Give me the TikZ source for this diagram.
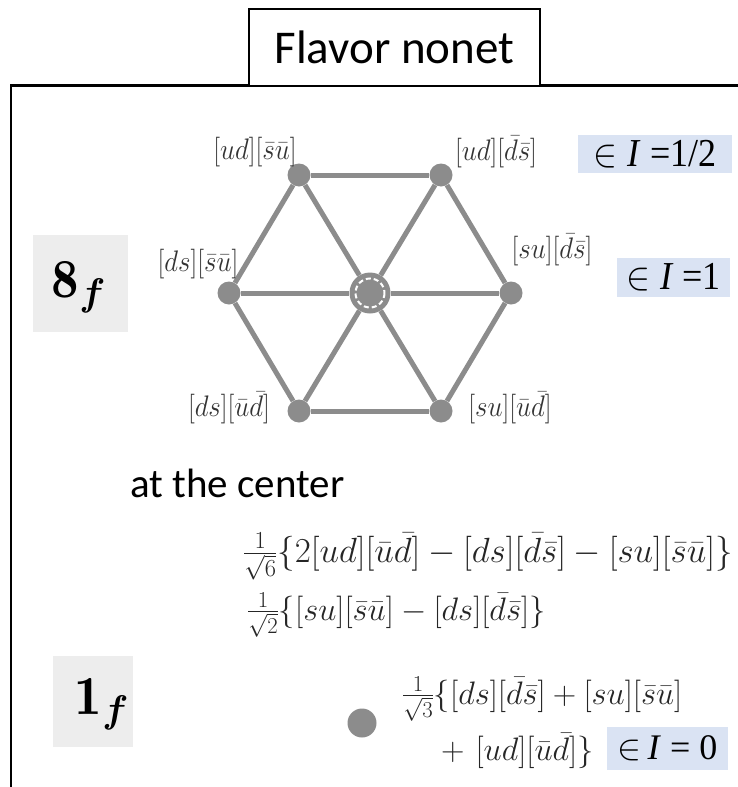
\RequirePackage{fix-cm}
\documentclass[tikz,border=0pt]{standalone}
\usepackage{amsmath}
\usepackage{fontspec}
\usepackage{graphicx}
\newfontfamily\calibri{Carlito}
\newfontfamily\timesf{Liberation Serif}
\definecolor{hexgray}{HTML}{8C8C8C}
\definecolor{boxgray}{HTML}{EDEDED}
\definecolor{isoblue}{HTML}{DAE3F3}
\tikzset{
  hexedge/.style={line width=5pt, hexgray},
  vdot/.style={circle, fill=hexgray, minimum size=23pt, inner sep=0pt},
  vlabel/.style={font=\fontsize{27}{30}\selectfont, text=black!80, inner sep=0pt},
  formula/.style={font=\fontsize{32.5}{40}\selectfont, text=black!85, inner sep=0pt, anchor=base west},
  isobox/.style={fill=isoblue, inner sep=0pt, font=\timesf\fontsize{36}{40}\selectfont},
  repbox/.style={fill=boxgray, inner sep=0pt},
  reptext/.style={font=\fontsize{55}{60}\selectfont, inner sep=0pt},
  titlebox/.style={draw, line width=1.5pt, fill=white, inner sep=0pt, font=\calibri\fontsize{47}{56}\selectfont},
  frameline/.style={line width=2.5pt}
}
\newcommand{\vs}[1]{\scalebox{1}[1.1]{#1}}
\begin{document}
\begin{tikzpicture}[x=1pt,y=-1pt]
\useasboundingbox (0,0) rectangle (738,787);
% frame
\coordinate (fb) at (11,787);
\coordinate (fc) at (11,85.5);
\coordinate (fr) at (738,85.5);
\draw[frameline] (fb) -- (fc) -- (fr);
\node[titlebox, minimum width=291pt, minimum height=77pt] (title) at (394.5,47.5) {Flavor nonet};

% representation boxes
\node[repbox, minimum width=95pt, minimum height=97pt] (b8) at (80.5,283.5) {};
\node[reptext] (t8) at (79,287) {$\mathbf{8}_{\boldsymbol{f}}$};
\node[repbox, minimum width=80pt, minimum height=91pt] (b1) at (93,701.5) {};
\node[reptext] (t1) at (102,704) {$\mathbf{1}_{\boldsymbol{f}}$};

% hexagon
\node[vdot] (ul) at (299,175) {};
\node[vdot] (ur) at (441,175) {};
\node[vdot] (l) at (229,293) {};
\node[vdot] (r) at (511,293) {};
\node[vdot] (dl) at (299,411) {};
\node[vdot] (dr) at (441,411) {};
\node[circle, fill=hexgray, minimum size=41pt, inner sep=0pt] (c) at (370,293) {};
\draw[hexedge] (ul) -- (ur);
\draw[hexedge] (ur) -- (r);
\draw[hexedge] (r) -- (dr);
\draw[hexedge] (dr) -- (dl);
\draw[hexedge] (dl) -- (l);
\draw[hexedge] (l) -- (ul);
\draw[hexedge] (ul) -- (c) -- (dr);
\draw[hexedge] (ur) -- (c) -- (dl);
\draw[hexedge] (l) -- (c) -- (r);
\draw[white, line width=2pt, dash pattern=on 5pt off 3pt] (c.center) circle (14.5);

% vertex labels
\node[vlabel] (lul) at (255,152) {\vs{$[ud][\bar s\bar u]$}};
\node[vlabel] (lur) at (496,152) {\vs{$[ud][\bar d\bar s]$}};
\node[vlabel] (ll) at (198,264) {\vs{$[ds][\bar s\bar u]$}};
\node[vlabel] (lr) at (552,250) {\vs{$[su][\bar d\bar s]$}};
\node[vlabel] (ldl) at (229,408) {\vs{$[ds][\bar u\bar d]$}};
\node[vlabel] (ldr) at (510,408) {\vs{$[su][\bar u\bar d]$}};

% isospin boxes
\node[isobox, minimum width=154pt, minimum height=38pt] (i12) at (655,154) {\vs{$\in$\hspace{10pt}\textit{I} =1/2}};
\node[isobox, minimum width=113pt, minimum height=39pt] (i1) at (673.5,277.5) {\vs{$\in$\hspace{10pt}\textit{I} =1}};
\node[isobox, minimum width=121pt, minimum height=43pt] (i0) at (667.5,748.5) {$\in$\hspace{6pt}\textit{I} = 0};

% center states
\node[anchor=base west, inner sep=0pt, font=\calibri\fontsize{41}{48}\selectfont] (atc) at (130,497) {at the center};
\node[formula, font=\fontsize{35}{40}\selectfont] (f1) at (243,562) {$\frac{1}{\sqrt6}\{2[ud][\bar u\bar d]-[ds][\bar d\bar s]-[su][\bar s\bar u]\}$};
\node[formula] (f2) at (247,620) {$\frac{1}{\sqrt2}\{[su][\bar s\bar u]-[ds][\bar d\bar s]\}$};

% singlet
\node[circle, fill=hexgray, minimum size=29pt, inner sep=0pt] (sd) at (362,723) {};
\node[formula] (f3) at (402,704) {$\frac{1}{\sqrt3}\{[ds][\bar d\bar s]+[su][\bar s\bar u]$};
\node[formula] (f4) at (441,760) {$+\hspace{11pt}[ud][\bar u\bar d]\}$};
\end{tikzpicture}
\end{document}
